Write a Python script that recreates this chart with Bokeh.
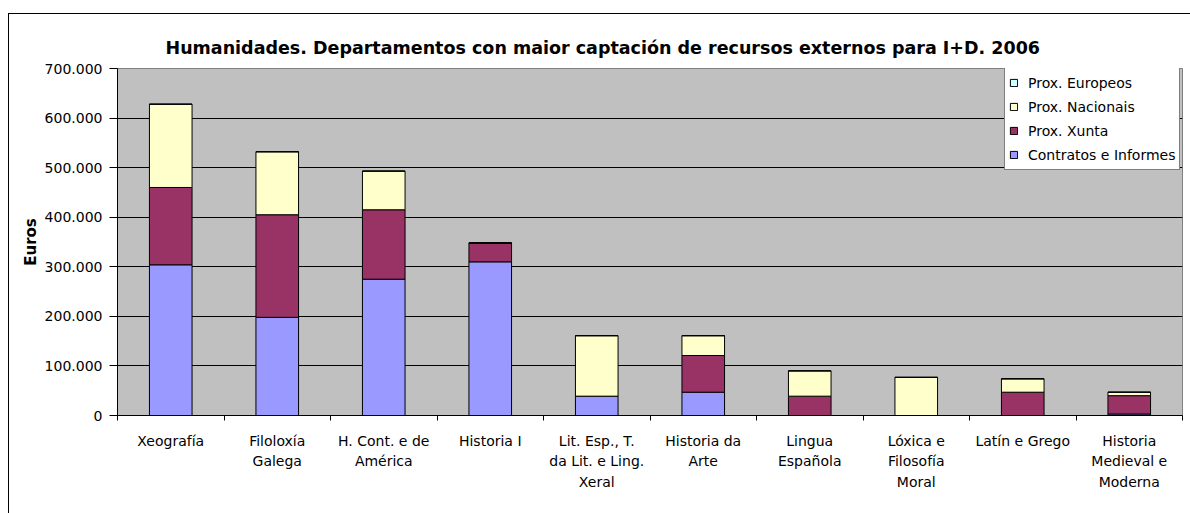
from bokeh.plotting import figure
from bokeh.models import FixedTicker, Legend, LegendItem, Range1d, Title, InlineStyleSheet
from bokeh.embed import file_html
from bokeh.resources import INLINE

categories = ["Xeografía", "Filoloxía\nGalega", "H. Cont. e de\nAmérica", "Historia I",
              "Lit. Esp., T.\nda Lit. e Ling.\nXeral", "Historia da\nArte", "Lingua\nEspañola",
              "Lóxica e\nFilosofía\nMoral", "Latín e Grego", "Historia\nMedieval e\nModerna"]
contratos = [304000, 198000, 275000, 310000, 39000, 47000, 0, 0, 0, 3000]
xunta = [156000, 207000, 140000, 38000, 0, 74000, 39000, 0, 47000, 37000]
nacionais = [168000, 127000, 78000, 0, 122000, 40000, 51000, 77000, 27000, 7000]
europeos = [0, 0, 0, 0, 0, 0, 0, 0, 0, 0]
series_names = ["Contratos e Informes", "Prox. Xunta", "Prox. Nacionais", "Prox. Europeos"]
series_colors = ["#9999FF", "#993366", "#FFFFCC", "#CCFFFF"]
y_ticks = [0, 100000, 200000, 300000, 400000, 500000, 600000, 700000]

FONT = "DejaVu Sans"
n = len(categories)
xs = [i + 0.5 for i in range(n)]
data = {"x": xs, "c": contratos, "xu": xunta, "na": nacionais, "eu": europeos}

border_css = InlineStyleSheet(css="""
:host { position: relative; overflow: hidden; }
:host::after {
  content: ""; position: absolute; left: 8px; top: 13px;
  width: 1400px; height: 1000px;
  border-left: 1.5px solid black; border-top: 1.5px solid black;
  pointer-events: none; z-index: 100;
}
""")

p = figure(width=1190, height=513, x_range=Range1d(0, n), y_range=Range1d(0, 700000),
           output_backend="svg", toolbar_location=None,
           min_border_left=117, min_border_right=8, min_border_top=68, min_border_bottom=98)
p.stylesheets = [border_css]
p.background_fill_color = "#C0C0C0"
p.border_fill_color = "white"
p.outline_line_color = "#808080"

t = Title(text="Humanidades. Departamentos con maior captación de recursos externos para I+D. 2006",
          align="left", offset=48, text_font=FONT, text_font_size="17.5px",
          text_font_style="bold", standoff=22, text_color="black")
p.add_layout(t, "above")

renderers = p.vbar_stack(["c", "xu", "na", "eu"], x="x", width=0.4, source=data,
                         color=series_colors, line_color="black", line_width=1)
for r in renderers:
    r.glyph.line_color = "black"

# axes
p.xaxis.ticker = FixedTicker(ticks=xs, minor_ticks=list(range(n + 1)))
p.xaxis.major_label_overrides = {x: c for x, c in zip(xs, categories)}
p.xaxis.major_tick_out = 0
p.xaxis.major_tick_in = 0
p.xaxis.minor_tick_out = 5
p.xaxis.minor_tick_in = 0
p.xaxis.minor_tick_line_color = "black"
p.xaxis.axis_line_color = "black"
p.xaxis.major_label_text_font = FONT
p.xaxis.major_label_text_font_size = "14px"
p.xaxis.major_label_text_color = "black"
p.xaxis.major_label_text_line_height = 1.3
p.xaxis.major_label_standoff = 12

p.yaxis.ticker = FixedTicker(ticks=y_ticks, minor_ticks=[])
p.yaxis.major_label_overrides = {v: f"{v:,}".replace(",", ".") for v in y_ticks}
p.yaxis.major_tick_out = 8
p.yaxis.major_tick_in = 0
p.yaxis.major_tick_line_color = "black"
p.yaxis.axis_line_color = "black"
p.yaxis.major_label_text_font = FONT
p.yaxis.major_label_text_font_size = "14px"
p.yaxis.major_label_text_color = "black"
p.yaxis.major_label_standoff = 7
p.yaxis.axis_label = "Euros"
p.yaxis.axis_label_text_font = FONT
p.yaxis.axis_label_text_font_size = "15px"
p.yaxis.axis_label_text_font_style = "bold"
p.yaxis.axis_label_text_color = "black"
p.yaxis.axis_label_standoff = 2

p.xgrid.visible = False
p.ygrid.ticker = FixedTicker(ticks=y_ticks[1:-1])
p.ygrid.grid_line_color = "black"
p.ygrid.grid_line_width = 1

items = [LegendItem(label=series_names[i], renderers=[renderers[i]]) for i in range(3, -1, -1)]
legend = Legend(items=items, location=(887, 245), orientation="vertical",
                label_text_font=FONT, label_text_font_size="14px", label_text_color="black",
                glyph_width=9, glyph_height=9, label_standoff=10, label_height=21,
                spacing=3, padding=4, margin=0,
                border_line_color="black", border_line_width=1,
                background_fill_color="white", background_fill_alpha=1.0)
p.add_layout(legend, "center")

open("out.html", "w").write(file_html(p, INLINE))
